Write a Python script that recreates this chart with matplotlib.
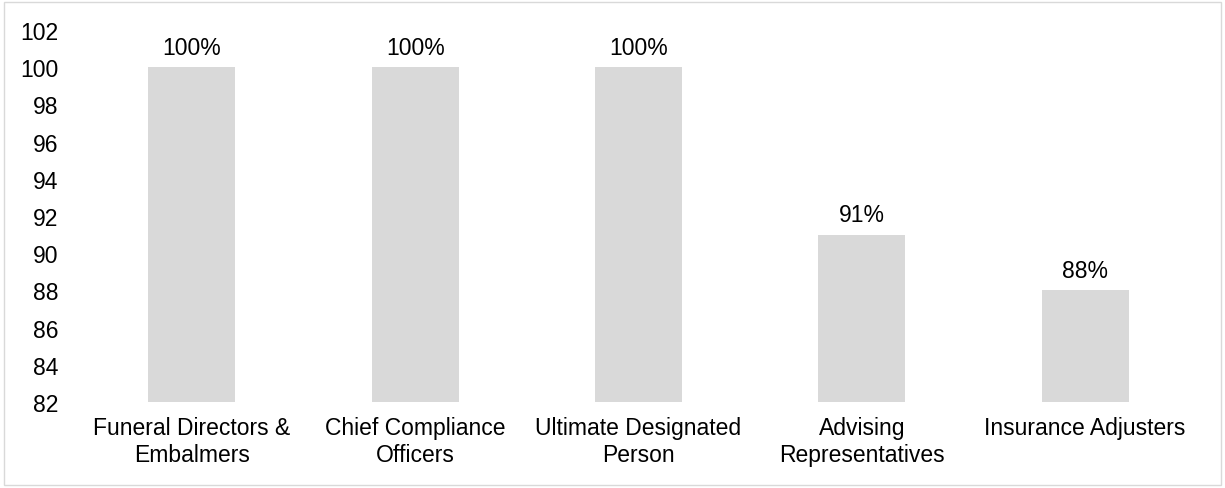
import matplotlib
matplotlib.use("Agg")
import matplotlib.pyplot as plt
from matplotlib.patches import Rectangle

plt.rcParams['font.family'] = ['Liberation Sans', 'DejaVu Sans']

categories = ["Funeral Directors &\nEmbalmers", "Chief Compliance\nOfficers",
              "Ultimate Designated\nPerson", "Advising\nRepresentatives",
              "Insurance Adjusters"]
values = [100, 100, 100, 91, 88]
yticks = list(range(82, 103, 2))

fig = plt.figure(figsize=(12.25, 4.89), dpi=100)
ax = fig.add_axes([0.0655, 0.176, 0.9115, 0.7605])

x = range(len(categories))
bars = ax.bar(x, values, width=0.39, color='#d9d9d9', bottom=0)
ax.set_ylim(82, 102)
ax.set_xlim(-0.5, len(categories) - 0.5)
ax.set_yticks(yticks)
ax.set_xticks(list(x))
ax.set_xticklabels(categories, fontsize=16.5, linespacing=1.25)
ax.tick_params(axis='y', length=0, pad=16, labelsize=16.5)
ax.tick_params(axis='x', length=0, pad=10)
for s in ax.spines.values():
    s.set_visible(False)

for b, v in zip(bars, values):
    ax.annotate(f"{v}%", (b.get_x() + b.get_width() / 2, v),
                xytext=(0, 6), textcoords='offset points',
                ha='center', va='bottom', fontsize=16.5)

# light frame around the chart area
fig.patches.append(Rectangle((0.003, 0.006), 0.994, 0.988, transform=fig.transFigure,
                             fill=False, edgecolor='#d9d9d9', linewidth=1))

fig.savefig('out.png', dpi=100)
